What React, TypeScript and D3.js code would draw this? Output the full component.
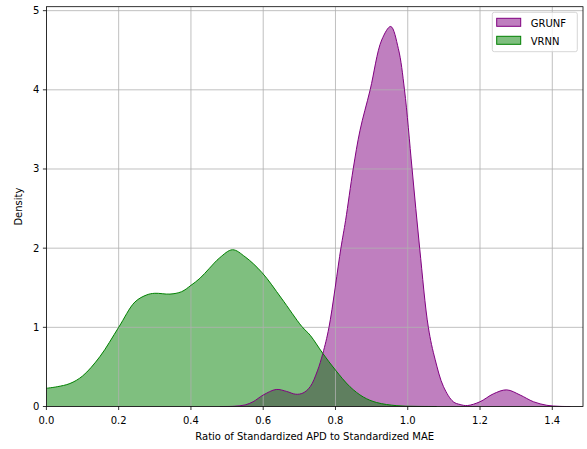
import React, { useEffect } from 'react';
import * as d3 from 'd3';

// density curves
const grunfX = [0.48, 0.52, 0.55, 0.572, 0.6, 0.636, 0.665, 0.69, 0.71, 0.73, 0.75, 0.765, 0.782, 0.815, 0.828, 0.849, 0.868, 0.896, 0.928, 0.953, 0.974, 0.991, 1.012, 1.033, 1.057, 1.076, 1.099, 1.126, 1.145, 1.165, 1.2, 1.237, 1.274, 1.311, 1.348, 1.385, 1.42, 1.45];
const grunfY = [0, 0.003, 0.02, 0.06, 0.145, 0.215, 0.19, 0.155, 0.17, 0.25, 0.45, 0.67, 1.0, 2.0, 2.35, 3.0, 3.49, 4.0, 4.63, 4.8, 4.52, 4.0, 3.0, 2.0, 1.0, 0.59, 0.25, 0.06, 0.025, 0.012, 0.06, 0.16, 0.21, 0.145, 0.06, 0.015, 0.002, 0];

const vrnnX = [0, 0.03, 0.065, 0.1, 0.148, 0.2, 0.245, 0.278, 0.3, 0.342, 0.374, 0.4, 0.425, 0.45, 0.48, 0.515, 0.55, 0.597, 0.65, 0.707, 0.73, 0.765, 0.8, 0.84, 0.877, 0.914, 0.97, 1.02, 1.08];
const vrnnY = [0.23, 0.25, 0.29, 0.385, 0.63, 1.0, 1.32, 1.41, 1.43, 1.42, 1.45, 1.53, 1.62, 1.74, 1.88, 1.98, 1.89, 1.69, 1.37, 1.01, 0.9, 0.67, 0.46, 0.25, 0.12, 0.05, 0.01, 0.002, 0];

const xTicks = [0, 0.2, 0.4, 0.6, 0.8, 1.0, 1.2, 1.4];
const yTicks = [0, 1, 2, 3, 4, 5];

const series = [
  { name: 'GRUNF', xs: grunfX, ys: grunfY, color: '#800080' },
  { name: 'VRNN', xs: vrnnX, ys: vrnnY, color: '#008000' },
];

const W = 587, H = 449;
const left = 46.4, right = 583, top = 6.7, bottom = 406.5;
const font = 'DejaVu Sans, sans-serif';

export default function App() {
  useEffect(() => {
    document.body.style.margin = '0';
  }, []);

  const x = d3.scaleLinear().domain([0, 1.485]).range([left, right]);
  const y = d3.scaleLinear().domain([0, 5.05]).range([bottom, top]);

  const curve = d3.curveCatmullRom.alpha(0.5);
  const area = d3.area<[number, number]>()
    .x(d => x(d[0])).y0(y(0)).y1(d => y(d[1]))
    .curve(curve);
  const line = d3.line<[number, number]>()
    .x(d => x(d[0])).y(d => y(d[1]))
    .curve(curve);

  const pts = series.map(s => s.xs.map((v, i) => [v, s.ys[i]] as [number, number]));

  return (
    <svg width={W} height={H} style={{ display: 'block' }} fontFamily={font}>
      <defs>
        <clipPath id="plot">
          <rect x={left} y={top} width={right - left} height={bottom - top} />
        </clipPath>
      </defs>
      <rect width={W} height={H} fill="#fff" />
      <g clipPath="url(#plot)">
        {series.map((s, i) => (
          <path key={s.name} d={area(pts[i]) || ''} fill={s.color} fillOpacity={0.5} />
        ))}
        {xTicks.map(t => (
          <line key={'gx' + t} x1={x(t)} x2={x(t)} y1={top} y2={bottom} stroke="#b0b0b0" strokeWidth={0.8} />
        ))}
        {yTicks.map(t => (
          <line key={'gy' + t} x1={left} x2={right} y1={y(t)} y2={y(t)} stroke="#b0b0b0" strokeWidth={0.8} />
        ))}
        {series.map((s, i) => (
          <path key={s.name + 'l'} d={line(pts[i]) || ''} fill="none" stroke={s.color} strokeWidth={1} />
        ))}
      </g>
      <rect x={left} y={top} width={right - left} height={bottom - top} fill="none" stroke="#000" strokeWidth={0.8} />
      {xTicks.map(t => (
        <g key={'xt' + t}>
          <line x1={x(t)} x2={x(t)} y1={bottom} y2={bottom + 3.5} stroke="#000" strokeWidth={0.8} />
          <text x={x(t)} y={424} textAnchor="middle" fontSize={10}>{t.toFixed(1)}</text>
        </g>
      ))}
      {yTicks.map(t => (
        <g key={'yt' + t}>
          <line x1={left - 3.5} x2={left} y1={y(t)} y2={y(t)} stroke="#000" strokeWidth={0.8} />
          <text x={39.4} y={y(t)} dy="0.35em" textAnchor="end" fontSize={10}>{t}</text>
        </g>
      ))}
      <text x={(left + right) / 2} y={440} textAnchor="middle" fontSize={10}>
        Ratio of Standardized APD to Standardized MAE
      </text>
      <text transform={`translate(22,${(top + bottom) / 2}) rotate(-90)`} textAnchor="middle" fontSize={10}>
        Density
      </text>
      <g>
        <rect x={492.3} y={12.3} width={85} height={39.4} rx={2} fill="#fff" fillOpacity={0.8} stroke="#cccccc" strokeWidth={0.8} />
        {series.map((s, i) => (
          <g key={'lg' + s.name}>
            <rect x={496.7} y={18.3 + i * 18} width={24} height={8} fill={s.color} fillOpacity={0.5} stroke={s.color} strokeWidth={1} />
            <text x={530.7} y={26.5 + i * 18} fontSize={10}>{s.name}</text>
          </g>
        ))}
      </g>
    </svg>
  );
}
